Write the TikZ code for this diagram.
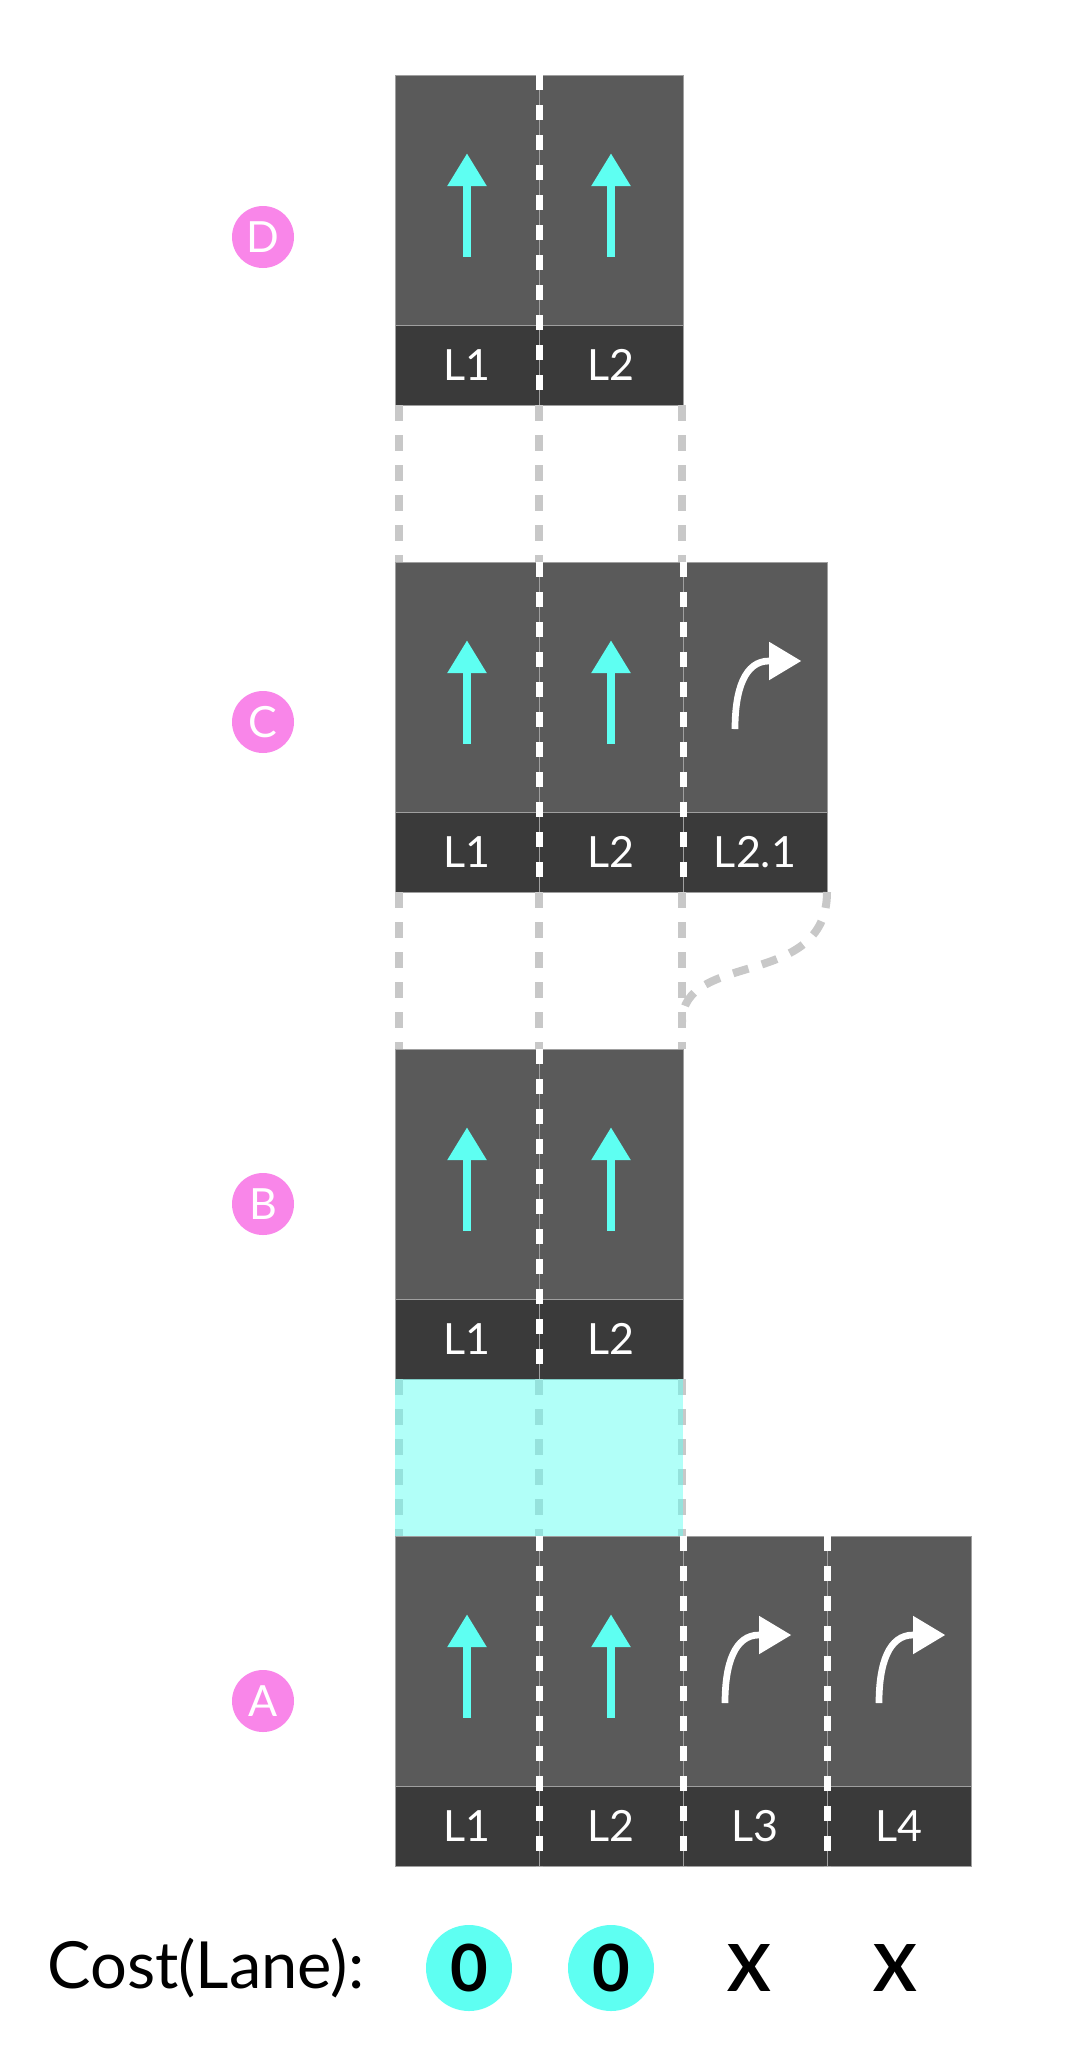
\documentclass[tikz,border=0pt]{standalone}
\usepackage{fontspec}
\setmainfont{Lato}
\usetikzlibrary{positioning,arrows.meta}

\definecolor{lanegray}{HTML}{5A5A5A}
\definecolor{bandgray}{HTML}{3A3A3A}
\definecolor{roadcyan}{HTML}{5EFFF2}
\definecolor{markpink}{HTML}{F986E9}
\definecolor{linkgray}{HTML}{C8C8C8}

\begin{document}
\begin{tikzpicture}[x=1pt,y=-1pt,
    lane/.style={rectangle,fill=lanegray,draw=gray!75,line width=1pt,outer sep=0pt,
      inner sep=0pt,minimum width=144pt,minimum height=250pt},
    band/.style={rectangle,fill=bandgray,draw=gray!75,line width=1pt,outer sep=0pt,
      inner sep=0pt,minimum width=144pt,minimum height=80pt,text=white,
      font=\fontsize{43}{50}\selectfont},
    divider/.style={draw=white,line width=7pt,dash pattern=on 15pt off 15pt},
    link/.style={draw=linkgray,line width=8pt,dash pattern=on 16pt off 14pt},
    goarrow/.style={draw=roadcyan,line width=7.3pt,-{Triangle[length=32.7pt,width=37.4pt]}},
    turnarrow/.style={draw=white,line width=6.7pt,-{Triangle[length=32.4pt,width=36.6pt]}},
    marker/.style={circle,fill=markpink,minimum size=62pt,inner sep=0pt,text=white,
      font=\fontsize{43}{50}\selectfont},
    costok/.style={circle,fill=roadcyan,minimum size=86pt,inner sep=0pt,
      font=\fontsize{65}{70}\selectfont\bfseries},
    costno/.style={font=\fontsize{65}{70}\selectfont\bfseries}]

  \fill[white] (0,0) rectangle (1068,2054);
  \useasboundingbox (0,0) rectangle (1068,2054);

  % segment D
  \node[lane] (d1) at (467,200) {};
  \node[lane,right=0pt of d1] (d2) {};
  \node[band,below=0pt of d1] (d1l) {L1};
  \node[band,below=0pt of d2] (d2l) {L2};

  % segment C
  \node[lane] (c1) at (467,687) {};
  \node[lane,right=0pt of c1] (c2) {};
  \node[lane,right=0pt of c2] (c3) {};
  \node[band,below=0pt of c1] (c1l) {L1};
  \node[band,below=0pt of c2] (c2l) {L2};
  \node[band,below=0pt of c3] (c3l) {L2.1};

  % segment B
  \node[lane] (b1) at (467,1174) {};
  \node[lane,right=0pt of b1] (b2) {};
  \node[band,below=0pt of b1] (b1l) {L1};
  \node[band,below=0pt of b2] (b2l) {L2};

  % links between segments
  \coordinate (merge) at ([yshift=27pt]b2.north east);
  \draw[link] ([xshift=4pt]d1l.south west) -- ([xshift=4pt]c1.north west);
  \draw[link] (d1l.south east) -- (c1.north east);
  \draw[link] ([xshift=-1pt]d2l.south east) -- ([xshift=-1pt]c2.north east);
  \draw[link] ([xshift=4pt]c1l.south west) -- ([xshift=4pt]b1.north west);
  \draw[link] (c1l.south east) -- (b1.north east);
  \draw[link] ([xshift=-1pt]c2l.south east) -- ([xshift=-1pt]b2.north east);
  \draw[link] (c3l.south east) .. controls +(0,98) and +(0,-72) .. ([xshift=-1pt]merge);

  % segment A
  \node[lane] (a1) at (467,1661) {};
  \node[lane,right=0pt of a1] (a2) {};
  \node[lane,right=0pt of a2] (a3) {};
  \node[lane,right=0pt of a3] (a4) {};
  \node[band,below=0pt of a1] (a1l) {L1};
  \node[band,below=0pt of a2] (a2l) {L2};
  \node[band,below=0pt of a3] (a3l) {L3};
  \node[band,below=0pt of a4] (a4l) {L4};

  \draw[link] ([xshift=4pt]b1l.south west) -- ([xshift=4pt]a1.north west);
  \draw[link] (b1l.south east) -- (a1.north east);
  \draw[link] ([xshift=-1pt]b2l.south east) -- ([xshift=-1pt]a2.north east);
  \fill[roadcyan,opacity=0.48] (b1l.south west) rectangle (a2.north east);

  % lane dividers
  \draw[divider] (d1.north east) -- (d1l.south east);
  \draw[divider] (c1.north east) -- (c1l.south east);
  \draw[divider] (c2.north east) -- (c2l.south east);
  \draw[divider] (b1.north east) -- (b1l.south east);
  \draw[divider] (a1.north east) -- (a1l.south east);
  \draw[divider] (a2.north east) -- (a2l.south east);
  \draw[divider] (a3.north east) -- (a3l.south east);

  % lane arrows
  \draw[goarrow] ([yshift=-56.7pt]d1.center) -- ([yshift=46.7pt]d1.center);
  \draw[goarrow] ([yshift=-56.7pt]d2.center) -- ([yshift=46.7pt]d2.center);
  \draw[goarrow] ([yshift=-56.7pt]c1.center) -- ([yshift=46.7pt]c1.center);
  \draw[goarrow] ([yshift=-56.7pt]c2.center) -- ([yshift=46.7pt]c2.center);
  \draw[turnarrow] ([shift={(-20pt,-42pt)}]c3.center)
    .. controls +(0pt,40pt) and +(-24pt,0pt) .. ([shift={(14pt,26pt)}]c3.center) -- +(32.4pt,0pt);
  \draw[goarrow] ([yshift=-56.7pt]b1.center) -- ([yshift=46.7pt]b1.center);
  \draw[goarrow] ([yshift=-56.7pt]b2.center) -- ([yshift=46.7pt]b2.center);
  \draw[goarrow] ([yshift=-56.7pt]a1.center) -- ([yshift=46.7pt]a1.center);
  \draw[goarrow] ([yshift=-56.7pt]a2.center) -- ([yshift=46.7pt]a2.center);
  \draw[turnarrow] ([shift={(-30pt,-42pt)}]a3.center)
    .. controls +(0pt,40pt) and +(-24pt,0pt) .. ([shift={(4pt,26pt)}]a3.center) -- +(32.4pt,0pt);
  \draw[turnarrow] ([shift={(-20pt,-42pt)}]a4.center)
    .. controls +(0pt,40pt) and +(-24pt,0pt) .. ([shift={(14pt,26pt)}]a4.center) -- +(32.4pt,0pt);

  % segment markers
  \node[marker] (mD) at (263,237) {D};
  \node[marker] (mC) at (263,722) {C};
  \node[marker] (mB) at (263,1204) {B};
  \node[marker] (mA) at (263,1701) {A};

  % costs
  \node[anchor=west,font=\fontsize{65}{70}\selectfont] (costlbl) at (44,1968) {Cost(Lane):};
  \node[costok] (cost1) at (469,1968) {0};
  \node[costok] (cost2) at (611,1968) {0};
  \node[costno] (cost3) at (749,1968) {X};
  \node[costno] (cost4) at (895,1968) {X};
\end{tikzpicture}
\end{document}
